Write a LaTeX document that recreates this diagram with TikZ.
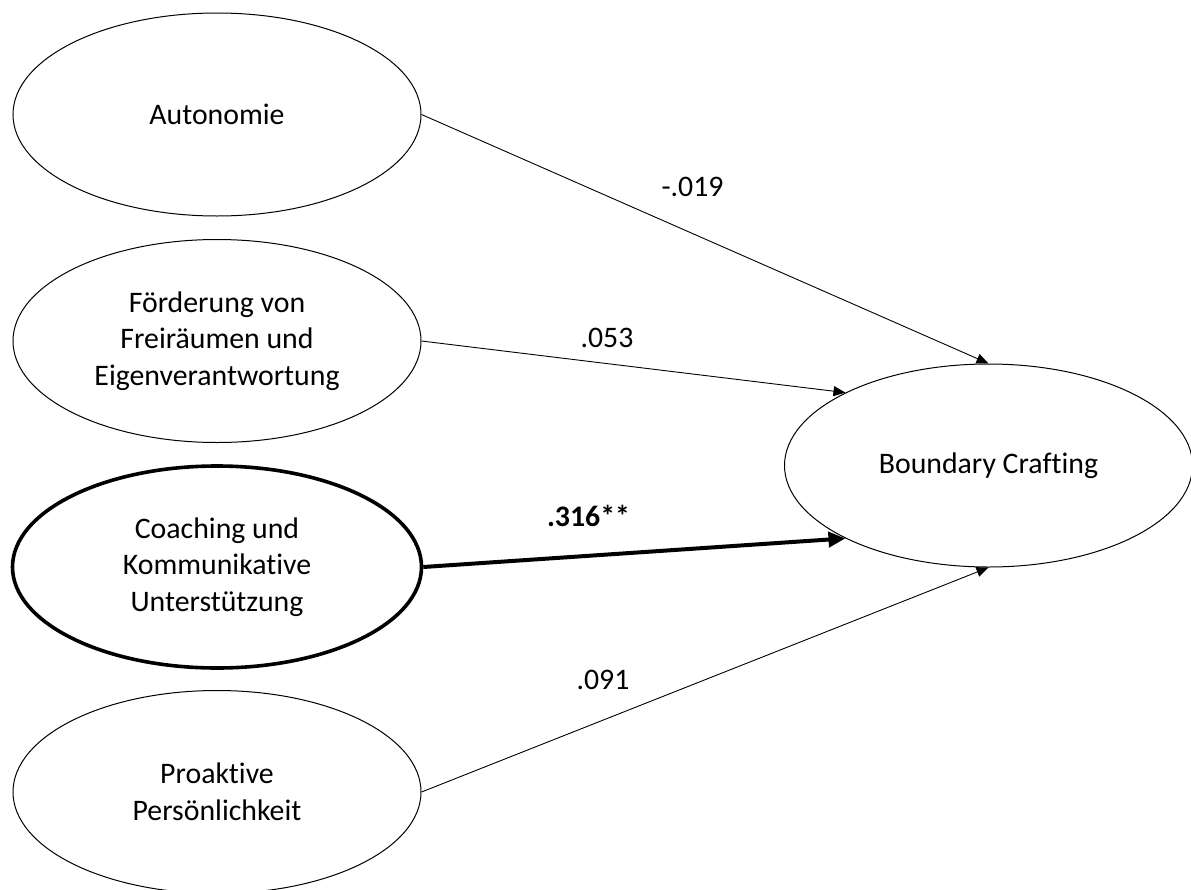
\documentclass[tikz,border=0pt]{standalone}
\usepackage{fontspec}
\setmainfont{Carlito}[Ligatures=NoCommon]
\usetikzlibrary{shapes.geometric,arrows.meta}
\begin{document}
\begin{tikzpicture}[x=1pt,y=-1pt,
  construct/.style={ellipse,draw,line width=1pt,minimum width=408pt,minimum height=203pt,
    inner sep=0pt,align=center,font=\fontsize{29.8}{36.5}\selectfont},
  strong/.style={line width=3.6pt},
  path/.style={line width=0.9pt,-{Triangle[length=12pt,width=10pt]}},
  strongpath/.style={line width=4pt,-{Triangle[length=17pt,width=15pt]}},
  coef/.style={font=\fontsize{29.8}{36.5}\selectfont}]
  \useasboundingbox (0,0) rectangle (1191,889);
  % predictors
  \node[construct] (auto) at (217,114.5) {Autonomie};
  \node[construct] (frei) at (217,341) {Förderung von\\Freiräumen und\\Eigenverantwortung};
  \node[construct,strong,minimum width=409pt,minimum height=202pt] (coach) at (217,567) {Coaching und\\Kommunikative\\Unterstützung};
  \node[construct] (proakt) at (217,792) {Proaktive\\Persönlichkeit};
  % outcome
  \node[construct] (bc) at (988.5,465.5) {Boundary Crafting};
  % paths
  \draw[path] (auto.east) -- (bc.north);
  \draw[path] (frei.east) -- (bc.153);
  \draw[strongpath] (coach.east) -- (bc.207);
  \draw[path] (proakt.east) -- (bc.south);
  % coefficients
  \node[coef] (c1) at (692.5,186.5) {-.019};
  \node[coef] (c2) at (607,338) {.053};
  \node[coef,font=\fontsize{29.8}{36.5}\selectfont\bfseries] (c3) at (588.5,516) {.316**};
  \node[coef] (c4) at (603,680) {.091};
\end{tikzpicture}
\end{document}
